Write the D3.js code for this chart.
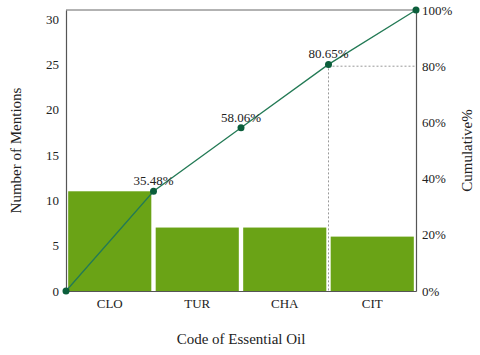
<!DOCTYPE html>
<html>
<head>
<meta charset="utf-8">
<script src="https://cdn.jsdelivr.net/npm/d3@7"></script>
<style>
  body { margin: 0; background: #fff; }
</style>
</head>
<body>
<svg id="chart" width="480" height="355"></svg>
<script>
"use strict";

const categories = ['CLO', 'TUR', 'CHA', 'CIT'];
const mentions = [11, 7, 7, 6];
const cumulativeLabels = ['35.48%', '58.06%', '80.65%', '100%'];
const leftTicks = [0, 5, 10, 15, 20, 25, 30];
const rightTicks = [0, 0.2, 0.4, 0.6, 0.8, 1];

const FONT = '"Liberation Serif", "DejaVu Serif", serif';

const margin = { top: 10, right: 64, bottom: 64, left: 66 };
const width = 480, height = 355;
const innerW = width - margin.left - margin.right;
const innerH = height - margin.top - margin.bottom;

const total = d3.sum(mentions);
const cumulative = Array.from(d3.cumsum(mentions), v => v / total);

const svg = d3.select('#chart');
const g = svg.append('g').attr('transform', `translate(${margin.left},${margin.top})`);

const x = d3.scaleBand().domain(categories).range([0, innerW]).paddingInner(0.05).paddingOuter(0.025);
const xEdge = d3.scaleLinear().domain([0, categories.length]).range([0, innerW]);
const y = d3.scaleLinear().domain([0, total]).range([innerH, 0]);
const yPct = d3.scaleLinear().domain([0, 1]).range([innerH, 0]);

// bars
g.selectAll('.bar')
    .data(mentions)
    .enter()
    .append('rect')
    .classed('bar', true)
    .attr('x', (d, i) => x(categories[i]))
    .attr('y', d => y(d))
    .attr('width', x.bandwidth())
    .attr('height', d => innerH - y(d))
    .attr('fill', '#6aa316');

// 80% guide lines
const guideIdx = 2;
g.append('line')
    .attr('x1', xEdge(guideIdx + 1)).attr('x2', innerW)
    .attr('y1', yPct(0.8)).attr('y2', yPct(0.8))
    .attr('stroke', '#999').attr('stroke-dasharray', '2,2');
g.append('line')
    .attr('x1', xEdge(guideIdx + 1)).attr('x2', xEdge(guideIdx + 1))
    .attr('y1', yPct(cumulative[guideIdx])).attr('y2', innerH)
    .attr('stroke', '#999').attr('stroke-dasharray', '2,2');

// frame + axes
g.append('line').attr('x1', 0).attr('x2', innerW).attr('y1', 0).attr('y2', 0).attr('stroke', '#666');

const leftAxis = g.append('g').call(d3.axisLeft(y).tickValues(leftTicks).tickSize(0).tickPadding(7));
const rightAxis = g.append('g').attr('transform', `translate(${innerW},0)`)
    .call(d3.axisRight(yPct).tickValues(rightTicks).tickSize(0).tickPadding(6).tickFormat(d3.format('.0%')));
const bottomAxis = g.append('g').attr('transform', `translate(0,${innerH})`)
    .call(d3.axisBottom(x).tickSize(0).tickPadding(8));

[leftAxis, rightAxis, bottomAxis].forEach(axis => {
    axis.attr('font-family', null);
    axis.select('.domain').attr('stroke', '#555').attr('stroke-width', 1.2);
    axis.selectAll('text')
        .style('font-family', FONT)
        .style('font-size', '13px')
        .attr('fill', '#222');
});

// cumulative line
const points = [0].concat(cumulative).map((v, i) => [xEdge(i), yPct(v)]);

g.append('path')
    .datum(points)
    .attr('d', d3.line())
    .attr('fill', 'none')
    .attr('stroke', '#237a55')
    .attr('stroke-width', 1.3);

g.selectAll('.dot')
    .data(points)
    .enter()
    .append('circle')
    .classed('dot', true)
    .attr('cx', d => d[0])
    .attr('cy', d => d[1])
    .attr('r', 3.5)
    .attr('fill', '#0b5e3b');

g.selectAll('.pct-label')
    .data(cumulativeLabels.slice(0, -1))
    .enter()
    .append('text')
    .classed('pct-label', true)
    .attr('x', (d, i) => xEdge(i + 1))
    .attr('y', (d, i) => yPct(cumulative[i]) - 6)
    .attr('text-anchor', 'middle')
    .style('font-family', FONT)
    .style('font-size', '13px')
    .attr('fill', '#222')
    .text(d => d);

// titles
const titles = [
    { text: 'Number of Mentions', transform: `translate(21,${margin.top + innerH / 2}) rotate(-90)` },
    { text: 'Cumulative%', transform: `translate(472,${margin.top + innerH / 2}) rotate(-90)` },
    { text: 'Code of Essential Oil', transform: `translate(${margin.left + innerW / 2},344)` }
];

svg.selectAll('.title')
    .data(titles)
    .enter()
    .append('text')
    .classed('title', true)
    .attr('transform', d => d.transform)
    .attr('text-anchor', 'middle')
    .style('font-family', FONT)
    .style('font-size', '15px')
    .attr('fill', '#222')
    .text(d => d.text);
</script>
</body>
</html>
